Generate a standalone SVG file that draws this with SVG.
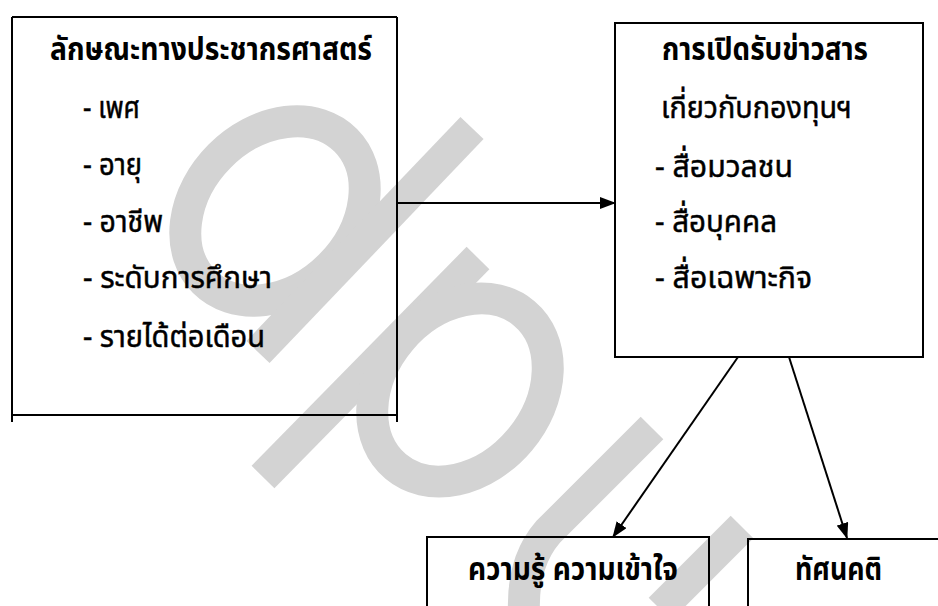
<svg xmlns="http://www.w3.org/2000/svg" width="938" height="606" viewBox="0 0 938 606">
<defs>
<style>
.box{fill:none;stroke:#000;stroke-width:2}
.wm{fill:none;stroke:#d3d3d3;stroke-width:32}
.t{font-family:"Noto Sans Thai","Noto Sans","DejaVu Sans",sans-serif;font-size:31px;fill:#000}
.r{stroke:#000;stroke-width:0.5}
.b{font-weight:bold}
.conn{stroke:#000;stroke-width:2;fill:none}
</style>
<marker id="ah" markerWidth="16" markerHeight="12" refX="15" refY="6" orient="auto" markerUnits="userSpaceOnUse">
<path d="M0,0 L16,6 L0,12 Z" fill="#000"/>
</marker>
</defs>
<rect width="938" height="606" fill="#fff"/>
<g id="watermark">
<ellipse class="wm" cx="275" cy="211" rx="100" ry="78" transform="rotate(-45 275 211)"/>
<line class="wm" x1="472" y1="128" x2="258" y2="352"/>
<line class="wm" x1="478" y1="258" x2="263" y2="477"/>
<ellipse class="wm" cx="460" cy="390" rx="100" ry="78" transform="rotate(-50 460 390)"/>
<path class="wm" d="M652,428 L548,532 Q522,562 524,612"/>
<line class="wm" x1="742" y1="527" x2="660" y2="609"/>
</g>
<g id="demographics">
<path class="box" d="M12,17 H397 M12,17 V422 M397,17 V422 M12,415 H397"/>
<text class="t b" x="50" y="60" textLength="322" lengthAdjust="spacingAndGlyphs">ลักษณะทางประชากรศาสตร์</text>
<text class="t r" x="83" y="118" textLength="57" lengthAdjust="spacingAndGlyphs">- เพศ</text>
<text class="t r" x="83" y="175" textLength="59" lengthAdjust="spacingAndGlyphs">- อายุ</text>
<text class="t r" x="83" y="232" textLength="80" lengthAdjust="spacingAndGlyphs">- อาชีพ</text>
<text class="t r" x="83" y="288" textLength="189" lengthAdjust="spacingAndGlyphs">- ระดับการศึกษา</text>
<text class="t r" x="83" y="347" textLength="182" lengthAdjust="spacingAndGlyphs">- รายได้ต่อเดือน</text>
</g>
<g id="exposure">
<rect class="box" x="615" y="23" width="308" height="334"/>
<text class="t b" x="662" y="60" textLength="206" lengthAdjust="spacingAndGlyphs">การเปิดรับข่าวสาร</text>
<text class="t r" x="661" y="118" textLength="191" lengthAdjust="spacingAndGlyphs">เกี่ยวกับกองทุนฯ</text>
<text class="t r" x="655" y="177" textLength="138" lengthAdjust="spacingAndGlyphs">- สื่อมวลชน</text>
<text class="t r" x="655" y="232" textLength="122" lengthAdjust="spacingAndGlyphs">- สื่อบุคคล</text>
<text class="t r" x="655" y="288" textLength="157" lengthAdjust="spacingAndGlyphs">- สื่อเฉพาะกิจ</text>
</g>
<g id="knowledge">
<path class="box" d="M427,610 V537 H709 V610"/>
<text class="t b" x="468" y="580" textLength="210" lengthAdjust="spacingAndGlyphs">ความรู้ ความเข้าใจ</text>
</g>
<g id="attitude">
<path class="box" d="M748,610 V539 H940"/>
<text class="t b" x="795" y="580" textLength="87" lengthAdjust="spacingAndGlyphs">ทัศนคติ</text>
</g>
<g id="connectors">
<line class="conn" x1="397" y1="203" x2="615" y2="203" marker-end="url(#ah)"/>
<line class="conn" x1="738" y1="357" x2="613" y2="537" marker-end="url(#ah)"/>
<line class="conn" x1="789" y1="357" x2="847" y2="538" marker-end="url(#ah)"/>
</g>
</svg>
